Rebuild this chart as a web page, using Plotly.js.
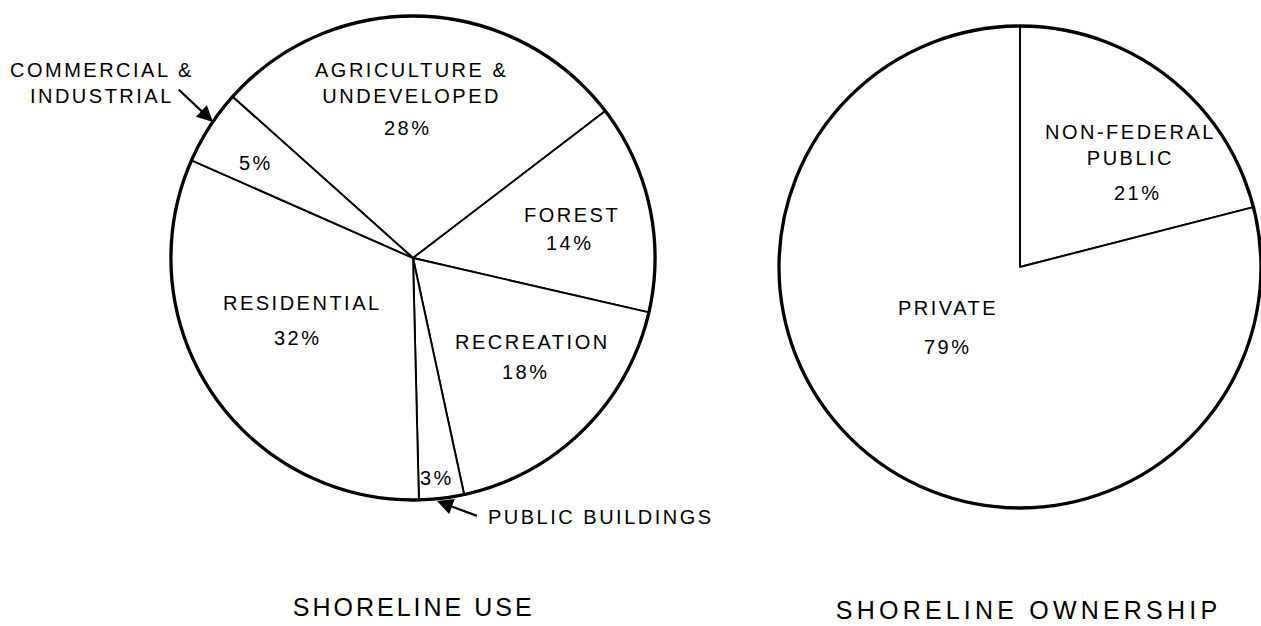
<!DOCTYPE html>
<html>
<head>
<meta charset="utf-8">
<script src="https://cdn.plot.ly/plotly-3.0.1.min.js"></script>
<style>
  html, body { margin: 0; padding: 0; background: #ffffff; }
  #chart { width: 1261px; height: 626px; }
  svg text { letter-spacing: 2.5px; }
  .annotation[data-index="0"] text { letter-spacing: 3px; }
  .annotation[data-index="1"] text { letter-spacing: 4.2px; }
</style>
</head>
<body>
<div id="chart"></div>
<script>
// ---- data ----
var useCategories = ['AGRICULTURE & UNDEVELOPED', 'FOREST', 'RECREATION', 'PUBLIC BUILDINGS', 'RESIDENTIAL', 'COMMERCIAL & INDUSTRIAL'];
var useValues = [28, 14, 18, 3, 32, 5];

var ownershipCategories = ['NON-FEDERAL PUBLIC', 'PRIVATE'];
var ownershipValues = [21, 79];

var chartTitles = ['SHORELINE USE', 'SHORELINE OWNERSHIP'];

// categories named outside their slice (with an arrow); only the percentage sits inside
var calloutCategories = ['COMMERCIAL & INDUSTRIAL', 'PUBLIC BUILDINGS'];

// ---- label placement (pixels): [nameX, nameY, percentX, percentY] per slice ----
var useLabelPos = [
  [411, 83, 408, 128],
  [572, 215, 570, 243],
  [532, 342, 526, 372],
  [null, null, 437, 478],
  [302, 303, 298, 338],
  [null, null, 256, 163]
];
var ownLabelPos = [
  [1130, 145, 1138, 193],
  [948, 308, 948, 347]
];
// callout text centres and arrow [headX, headY, tailX, tailY]
var calloutTextPos = [[102, 83], [601, 517]];
var calloutArrows = [[213, 122, 176, 87], [437, 501, 480, 517]];

// ---- helpers ----
var FONT = 'Liberation Sans, Arial, Helvetica, sans-serif';
var W = 1261, H = 626;
function px(x) { return x / W; }
function py(y) { return (H - y) / H; }

function wrapName(name) {
  if (name === 'NON-FEDERAL PUBLIC') return 'NON-FEDERAL<br>PUBLIC';
  return name.replace(' & ', ' &<br>');
}

function domainFor(cx, cy, r) {
  return {
    x: [Math.max(0, (cx - r) / W), Math.min(1, (cx + r) / W)],
    y: [Math.max(0, (H - (cy + r)) / H), Math.min(1, (H - (cy - r)) / H)]
  };
}
var useDomain = domainFor(413, 258, 242);
var ownDomain = domainFor(1020, 267, 241);

var sliceLine = { color: '#000000', width: 1.9 };
var rimLine = { color: '#000000', width: 3.3 };

function pieTrace(cats, vals, domain, rotation) {
  return {
    type: 'pie',
    labels: cats,
    values: vals,
    textinfo: 'none',
    sort: false,
    direction: 'clockwise',
    rotation: rotation,
    marker: { colors: vals.map(function () { return '#ffffff'; }), line: sliceLine },
    domain: domain,
    hoverinfo: 'skip',
    showlegend: false
  };
}
function rimTrace(domain) {
  // a single full-circle slice, transparent, drawn on top for the heavier outer rim
  return {
    type: 'pie',
    labels: ['rim'],
    values: [1],
    textinfo: 'none',
    sort: false,
    marker: { colors: ['rgba(0,0,0,0)'], line: rimLine },
    domain: domain,
    hoverinfo: 'skip',
    showlegend: false
  };
}

var data = [
  pieTrace(useCategories, useValues, useDomain, -48.2),
  rimTrace(useDomain),
  pieTrace(ownershipCategories, ownershipValues, ownDomain, 0),
  rimTrace(ownDomain)
];

var labelFont = { family: FONT, size: 20, color: '#000000' };
function textAnn(text, x, y, font) {
  return { text: text, x: px(x), y: py(y), xref: 'paper', yref: 'paper',
           xanchor: 'center', yanchor: 'middle', align: 'center', showarrow: false,
           font: font || labelFont };
}

var annotations = [
  textAnn(chartTitles[0], 413, 607, { family: FONT, size: 25, color: '#000000' }),
  textAnn(chartTitles[1], 1028, 610, { family: FONT, size: 25, color: '#000000' })
];

function addSliceLabels(cats, vals, pos) {
  cats.forEach(function (c, i) {
    var p = pos[i];
    if (p[0] !== null) annotations.push(textAnn(wrapName(c), p[0], p[1]));
    annotations.push(textAnn(vals[i] + '%', p[2], p[3]));
  });
}
addSliceLabels(useCategories, useValues, useLabelPos);
addSliceLabels(ownershipCategories, ownershipValues, ownLabelPos);

calloutCategories.forEach(function (c, i) {
  annotations.push(textAnn(wrapName(c), calloutTextPos[i][0], calloutTextPos[i][1]));
  var a = calloutArrows[i];
  annotations.push({
    text: ' ', x: px(a[0]), y: py(a[1]), xref: 'paper', yref: 'paper',
    ax: a[2] - a[0], ay: a[3] - a[1], showarrow: true,
    arrowhead: 2, arrowsize: 1.45, arrowwidth: 2.2, arrowcolor: '#000000',
    font: { size: 2 }
  });
});

var layout = {
  width: W,
  height: H,
  margin: { l: 0, r: 0, t: 0, b: 0, pad: 0 },
  paper_bgcolor: '#ffffff',
  plot_bgcolor: '#ffffff',
  font: { family: FONT, color: '#000000' },
  showlegend: false,
  annotations: annotations
};

Plotly.newPlot('chart', data, layout, { displayModeBar: false, staticPlot: true });
</script>
</body>
</html>
